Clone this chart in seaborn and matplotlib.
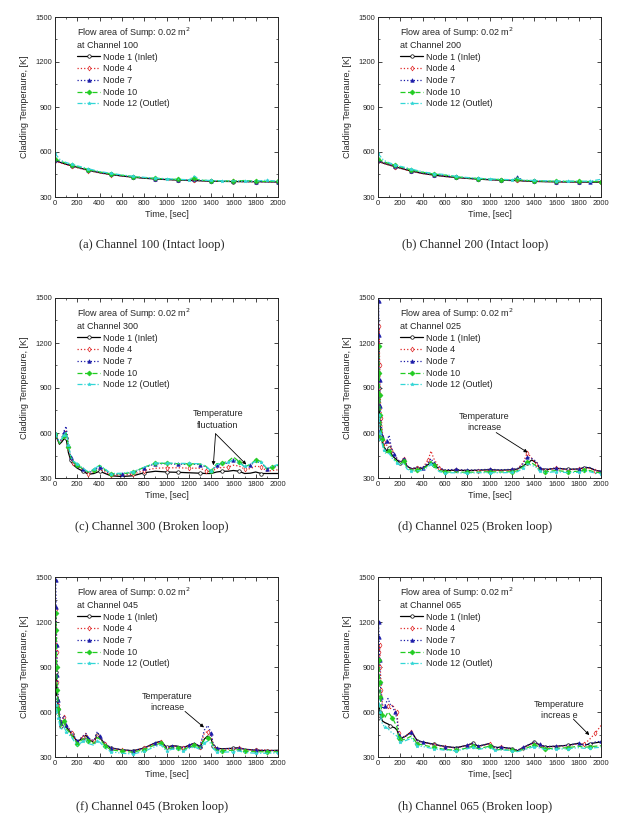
import matplotlib
matplotlib.use("Agg")
import matplotlib.pyplot as plt
import seaborn as sns

# ---- data (time in s, temperature in K) ----
node_names = ["Node 1 (Inlet)", "Node 4", "Node 7", "Node 10", "Node 12 (Outlet)"]

t_100 = [0, 50, 100, 150, 200, 300, 400, 500, 600, 700, 800, 900, 1000, 1100, 1200, 1250,
         1300, 1400, 1500, 1600, 1700, 1800, 1900, 2000]
ch100_n1 = [545, 530, 518, 508, 498, 478, 462, 450, 440, 432, 425, 420, 416, 413, 410, 410, 408, 405, 404, 403, 402, 402, 401, 400]
ch100_n4 = [540, 527, 516, 505, 495, 476, 460, 449, 440, 432, 426, 421, 417, 414, 411, 412, 409, 406, 405, 404, 403, 403, 402, 401]
ch100_n7 = [548, 533, 521, 510, 500, 480, 464, 452, 442, 434, 427, 422, 418, 415, 412, 420, 410, 407, 405, 404, 403, 403, 402, 402]
ch100_n10 = [555, 538, 525, 514, 503, 483, 467, 455, 445, 436, 429, 424, 420, 417, 414, 425, 412, 409, 407, 406, 410, 405, 404, 404]
ch100_n12 = [590, 545, 530, 518, 508, 488, 470, 458, 447, 438, 431, 426, 422, 418, 415, 440, 413, 410, 408, 407, 406, 406, 412, 405]

t_200 = [0, 50, 100, 150, 200, 300, 400, 500, 600, 700, 800, 900, 1000, 1100, 1200, 1250,
         1300, 1400, 1500, 1600, 1700, 1800, 1900, 2000]
ch200_n1 = [540, 525, 514, 503, 492, 472, 457, 446, 437, 430, 424, 419, 415, 412, 410, 410, 407, 404, 402, 401, 400, 400, 399, 399]
ch200_n4 = [538, 524, 512, 502, 491, 471, 456, 446, 437, 430, 424, 419, 416, 413, 410, 411, 408, 405, 403, 402, 401, 401, 400, 400]
ch200_n7 = [545, 530, 518, 507, 496, 476, 460, 449, 440, 432, 426, 421, 417, 414, 411, 435, 409, 406, 404, 403, 402, 402, 401, 401]
ch200_n10 = [552, 536, 523, 512, 501, 481, 465, 453, 446, 435, 428, 423, 419, 416, 413, 420, 411, 408, 406, 405, 404, 404, 403, 403]
ch200_n12 = [590, 545, 528, 516, 505, 486, 468, 456, 450, 437, 430, 425, 421, 418, 415, 425, 413, 410, 408, 407, 406, 406, 405, 418]

t_300 = [0, 20, 40, 60, 80, 100, 120, 140, 160, 200, 250, 300, 350, 400, 450, 500, 600, 700, 800,
         900, 1000, 1100, 1200, 1300, 1350, 1400, 1450, 1500, 1550, 1600, 1650, 1700, 1750, 1800,
         1850, 1900, 1950, 2000]
ch300_n1 = [590, 560, 525, 540, 560, 565, 470, 420, 390, 365, 345, 325, 330, 345, 330, 315, 310, 315, 335, 345,
            340, 338, 335, 332, 330, 330, 340, 345, 345, 350, 345, 330, 332, 340, 330, 330, 330, 330]
ch300_n4 = [595, 565, 530, 555, 590, 620, 500, 430, 400, 375, 355, 330, 340, 360, 340, 320, 318, 325, 350, 365,
            368, 368, 366, 365, 350, 340, 365, 370, 372, 385, 380, 360, 362, 378, 375, 345, 350, 355]
ch300_n7 = [600, 570, 535, 565, 610, 645, 520, 440, 405, 380, 360, 335, 350, 375, 350, 325, 325, 335, 370, 395,
            395, 392, 392, 390, 375, 345, 385, 392, 400, 420, 405, 375, 385, 410, 400, 360, 370, 380]
ch300_n10 = [595, 565, 530, 555, 580, 600, 510, 440, 410, 385, 362, 338, 355, 385, 355, 328, 328, 338, 372, 398,
             398, 395, 395, 393, 380, 345, 395, 400, 410, 440, 410, 375, 390, 420, 410, 360, 375, 385]
ch300_n12 = [600, 570, 540, 560, 590, 610, 520, 450, 415, 395, 365, 340, 360, 385, 360, 330, 332, 342, 372, 400,
             400, 398, 397, 395, 380, 348, 390, 400, 405, 420, 400, 378, 392, 412, 405, 365, 378, 390]

t_025 = [0, 5, 10, 15, 20, 30, 40, 50, 60, 80, 100, 120, 140, 170, 200, 230, 260, 300, 350, 400, 450,
         475, 500, 550, 600, 700, 800, 900, 1000, 1100, 1200, 1250, 1300, 1340, 1380, 1420, 1450,
         1500, 1600, 1700, 1800, 1850, 1900, 1950, 2000]
ch025_n1 = [560, 900, 760, 700, 640, 580, 530, 510, 500, 480, 500, 460, 440, 420, 400, 425, 380, 360, 365, 365, 390,
            405, 390, 360, 350, 352, 350, 352, 355, 352, 355, 360, 380, 400, 420, 400, 365, 355, 365, 358, 360, 370, 368, 350, 345]
ch025_n4 = [600, 1000, 1310, 1050, 850, 700, 600, 540, 510, 520, 545, 490, 470, 430, 405, 430, 380, 362, 368, 368, 420,
            480, 430, 365, 352, 355, 350, 350, 352, 350, 352, 358, 400, 470, 430, 395, 365, 355, 365, 355, 358, 368, 365, 348, 342]
ch025_n7 = [620, 1480, 1250, 950, 780, 650, 580, 530, 520, 550, 585, 500, 460, 430, 405, 430, 380, 365, 370, 370, 400,
            430, 400, 368, 355, 357, 352, 355, 358, 355, 358, 362, 395, 440, 430, 410, 370, 358, 368, 358, 360, 372, 370, 352, 345]
ch025_n10 = [580, 1180, 1000, 850, 720, 620, 560, 510, 480, 470, 480, 450, 430, 410, 395, 415, 370, 352, 355, 358, 385,
             410, 385, 350, 340, 340, 338, 340, 342, 340, 342, 348, 375, 410, 400, 380, 350, 342, 350, 342, 345, 352, 350, 338, 335]
ch025_n12 = [560, 720, 700, 650, 600, 560, 520, 490, 470, 460, 465, 440, 420, 400, 385, 400, 360, 345, 348, 350, 375,
             395, 375, 342, 335, 335, 333, 335, 336, 335, 337, 342, 365, 395, 385, 370, 345, 336, 342, 336, 338, 345, 342, 332, 330]

t_045 = [0, 5, 10, 15, 20, 30, 50, 80, 100, 150, 200, 250, 280, 300, 350, 380, 400, 450, 500, 600, 700,
         800, 900, 950, 1000, 1050, 1100, 1150, 1200, 1250, 1300, 1340, 1370, 1400, 1420, 1450, 1500,
         1600, 1650, 1700, 1800, 1900, 2000]
ch045_n1 = [600, 700, 870, 680, 700, 620, 510, 540, 500, 455, 400, 430, 445, 415, 400, 450, 430, 385, 360, 348, 342,
            360, 395, 405, 365, 375, 372, 362, 378, 392, 368, 420, 440, 420, 375, 358, 355, 358, 362, 352, 345, 342, 345]
ch045_n4 = [620, 1050, 1290, 1000, 800, 650, 520, 570, 510, 460, 400, 435, 460, 420, 405, 450, 435, 385, 358, 345, 340,
            358, 392, 402, 360, 372, 370, 360, 375, 390, 370, 460, 470, 440, 380, 355, 352, 355, 360, 350, 345, 348, 340]
ch045_n7 = [650, 1480, 1300, 1050, 850, 680, 530, 575, 515, 465, 405, 438, 455, 425, 410, 470, 440, 390, 362, 348, 342,
            360, 395, 405, 362, 375, 372, 362, 378, 392, 372, 480, 510, 460, 382, 358, 355, 358, 362, 352, 346, 345, 342]
ch045_n10 = [620, 1260, 1150, 900, 750, 620, 500, 540, 490, 445, 390, 420, 430, 405, 390, 430, 420, 375, 348, 338, 332,
             350, 382, 392, 350, 362, 360, 350, 365, 378, 360, 420, 430, 410, 368, 345, 342, 345, 350, 340, 335, 335, 335]
ch045_n12 = [600, 700, 650, 620, 600, 560, 480, 500, 470, 430, 375, 405, 415, 390, 378, 410, 400, 360, 335, 325, 320,
             338, 370, 380, 340, 352, 350, 340, 355, 368, 350, 395, 405, 390, 355, 335, 332, 335, 340, 330, 325, 325, 328]

t_065 = [0, 5, 10, 15, 20, 30, 40, 60, 90, 110, 130, 150, 170, 185, 200, 250, 300, 350, 400, 500, 600,
         700, 800, 850, 900, 1000, 1050, 1100, 1200, 1250, 1300, 1400, 1450, 1500, 1600, 1700, 1800,
         1850, 1900, 1950, 2000]
ch065_n1 = [560, 620, 650, 600, 580, 560, 540, 530, 520, 510, 500, 495, 480, 450, 420, 440, 470, 410, 400, 385, 370,
            362, 378, 392, 372, 390, 362, 366, 356, 342, 362, 398, 382, 368, 372, 378, 392, 378, 388, 395, 400]
ch065_n4 = [700, 900, 1000, 1050, 900, 750, 650, 620, 640, 620, 650, 620, 600, 460, 430, 440, 470, 410, 398, 382, 368,
            360, 376, 390, 370, 388, 360, 364, 355, 342, 360, 396, 380, 366, 370, 376, 388, 385, 420, 460, 510]
ch065_n7 = [750, 1200, 1100, 950, 800, 700, 620, 640, 690, 650, 640, 600, 560, 450, 425, 440, 465, 410, 400, 385, 370,
            362, 378, 392, 372, 390, 362, 366, 358, 345, 364, 400, 385, 370, 373, 378, 392, 380, 390, 400, 405]
ch065_n10 = [650, 950, 900, 800, 700, 620, 580, 560, 600, 580, 560, 530, 500, 430, 410, 420, 440, 390, 380, 365, 350,
             345, 360, 372, 355, 372, 348, 350, 345, 338, 350, 380, 368, 355, 358, 362, 372, 365, 368, 372, 375]
ch065_n12 = [650, 700, 680, 640, 600, 550, 520, 500, 490, 470, 460, 450, 440, 420, 400, 410, 425, 375, 370, 355, 345,
             342, 355, 365, 350, 365, 345, 348, 342, 336, 345, 370, 360, 350, 352, 355, 362, 358, 360, 362, 365]

captions = ["(a) Channel 100 (Intact loop)", "(b) Channel 200 (Intact loop)",
            "(c) Channel 300 (Broken loop)", "(d) Channel 025 (Broken loop)",
            "(f) Channel 045 (Broken loop)", "(h) Channel 065 (Broken loop)"]
channels = ["100", "200", "300", "025", "045", "065"]

panels = [
    (t_100, [ch100_n1, ch100_n4, ch100_n7, ch100_n10, ch100_n12]),
    (t_200, [ch200_n1, ch200_n4, ch200_n7, ch200_n10, ch200_n12]),
    (t_300, [ch300_n1, ch300_n4, ch300_n7, ch300_n10, ch300_n12]),
    (t_025, [ch025_n1, ch025_n4, ch025_n7, ch025_n10, ch025_n12]),
    (t_045, [ch045_n1, ch045_n4, ch045_n7, ch045_n10, ch045_n12]),
    (t_065, [ch065_n1, ch065_n4, ch065_n7, ch065_n10, ch065_n12]),
]

# annotation: (panel index, text, text xy, arrow start, arrow tips)
notes = [
    (2, "Temperature\nfluctuation", (1460, 690), (1440, 595), [(1420, 385), (1715, 390)]),
    (3, "Temperature\nincrease", (955, 672), (1060, 603), [(1342, 470)]),
    (4, "Temperature\nincrease", (1005, 667), (1166, 604), [(1336, 497)]),
    (5, "Temperature\nincreas e", (1626, 611), (1752, 553), [(1895, 446)]),
]

# ---- style ----
sns.set_style("ticks")
plt.rcParams["font.family"] = ["Liberation Sans", "DejaVu Sans"]

colors = ["black", "#e02828", "#1a1aa8", "#22cc22", "#33d6d6"]
styles = ["-", ":", ":", (0, (4, 2)), (0, (4, 1.5, 1, 1.5, 1, 1.5))]
markers = ["o", "d", "^", "D", "*"]
fills = ["white", "white", None, None, None]

fig = plt.figure(figsize=(6.19, 8.22), dpi=100)

W, H = 619, 822
boxes = [(55, 17), (378, 17), (55, 298), (378, 298), (55, 577), (378, 577)]
cap_pos = [(152, 245), (475, 245), (152, 527), (475, 527), (152, 807), (475, 807)]

for i, (t, series) in enumerate(panels):
    x0, y0 = boxes[i]
    ax = fig.add_axes([x0 / W, 1 - (y0 + 180) / H, 223 / W, 180 / H])
    for name, vals, c, ls, mk, mf in zip(node_names, series, colors, styles, markers, fills):
        sns.lineplot(x=t, y=vals, ax=ax, color=c, linestyle=ls, linewidth=0.9,
                     marker=mk, markersize=2.5, markevery=0.07,
                     markerfacecolor=mf if mf else c, markeredgecolor=c,
                     markeredgewidth=0.5, estimator=None, sort=False, label=name)
    ax.set_xlim(0, 2000)
    ax.set_ylim(300, 1500)
    ax.set_xticks(range(0, 2001, 200))
    ax.set_xticks(range(0, 2001, 100), minor=True)
    ax.set_yticks(range(300, 1501, 300))
    ax.set_yticks(range(300, 1501, 150), minor=True)
    ax.tick_params(which="both", direction="in", top=True, right=True, labelsize=5.5, pad=2)
    ax.tick_params(which="major", length=3, width=0.6)
    ax.tick_params(which="minor", length=1.5, width=0.5)
    for s in ax.spines.values():
        s.set_linewidth(0.7)
    ax.set_xlabel("Time, [sec]", fontsize=6.5, labelpad=2)
    ax.set_ylabel("Cladding Temperaure, [K]", fontsize=6.5, labelpad=5)
    leg = ax.legend(loc="upper left", bbox_to_anchor=(0.07, 0.99), frameon=False,
                    title="Flow area of Sump: 0.02 m$^2$\nat Channel " + channels[i],
                    fontsize=6.5, title_fontsize=6.5, handlelength=2.6, handletextpad=0.3,
                    labelspacing=0.3, borderpad=0.2, alignment="left")
    cx, cy = cap_pos[i]
    fig.text(cx / W, 1 - cy / H, captions[i], ha="center", va="center",
             fontsize=9, family=["Liberation Serif", "DejaVu Serif"])

    for (pi, txt, txy, start, tips) in notes:
        if pi != i:
            continue
        ax.text(txy[0], txy[1], txt, ha="center", va="center", fontsize=6.5, linespacing=1.3)
        for tip in tips:
            ax.annotate("", xy=tip, xytext=start,
                        arrowprops=dict(arrowstyle="-|>", color="black", lw=0.6,
                                        mutation_scale=5, shrinkA=0, shrinkB=0))

fig.savefig("out.png", dpi=100)
